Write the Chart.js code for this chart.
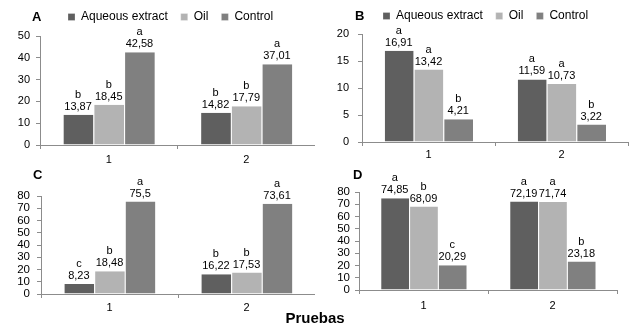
<!DOCTYPE html>
<html>
<head>
<meta charset="utf-8">
<script src="https://cdn.jsdelivr.net/npm/chart.js@4.4.0/dist/chart.umd.min.js"></script>
<style>
  body { margin: 0; background: #fff; }
  #wrap { position: relative; width: 629px; height: 327px; overflow: hidden; font-family: Arial, "Liberation Sans", sans-serif; color: #000; }
  canvas { position: absolute; }
  .letter { position: absolute; font-weight: bold; font-size: 13px; line-height: 14px; }
  #xtitle { position: absolute; left: 0; width: 630px; top: 310px; text-align: center; font-weight: bold; font-size: 15px; line-height: 16px; }
</style>
</head>
<body>
<div id="wrap">
  <canvas id="chartA" width="315" height="170" style="left:0;top:0"></canvas>
  <canvas id="chartB" width="314" height="170" style="left:315px;top:0"></canvas>
  <canvas id="chartC" width="315" height="164" style="left:0;top:163px"></canvas>
  <canvas id="chartD" width="314" height="164" style="left:315px;top:163px"></canvas>
  <div class="letter" style="left:32px;top:10px">A</div>
  <div class="letter" style="left:355px;top:9px">B</div>
  <div class="letter" style="left:33px;top:168px">C</div>
  <div class="letter" style="left:353px;top:168px">D</div>
  <div id="xtitle">Pruebas</div>
</div>
<script>
const categories = ['1', '2'];
const seriesNames = ['Aqueous extract', 'Oil', 'Control'];
const seriesColors = ['#5f5f5f', '#b3b3b3', '#808080'];

// A
const aqueousA = [13.87, 14.82];
const oilA = [18.45, 17.79];
const controlA = [42.58, 37.01];
const lettersA = [['b', 'b'], ['b', 'b'], ['a', 'a']];
const ticksA = [0, 10, 20, 30, 40, 50];

// B
const aqueousB = [16.91, 11.59];
const oilB = [13.42, 10.73];
const controlB = [4.21, 3.22];
const lettersB = [['a', 'a'], ['a', 'a'], ['b', 'b']];
const ticksB = [0, 5, 10, 15, 20];

// C
const aqueousC = [8.23, 16.22];
const oilC = [18.48, 17.53];
const controlC = [75.5, 73.61];
const lettersC = [['c', 'b'], ['b', 'b'], ['a', 'a']];
const ticksC = [0, 10, 20, 30, 40, 50, 60, 70, 80];

// D
const aqueousD = [74.85, 72.19];
const oilD = [68.09, 71.74];
const controlD = [20.29, 23.18];
const lettersD = [['a', 'a'], ['b', 'a'], ['c', 'b']];
const ticksD = [0, 10, 20, 30, 40, 50, 60, 70, 80];

const FONT = 'Arial, "Liberation Sans", sans-serif';
const axisColor = '#8c8c8c';

// letter + value above every bar
const barLabels = {
    id: 'barLabels',
    afterDatasetsDraw(chart) {
        const ctx = chart.ctx;
        ctx.save();
        ctx.font = '11px ' + FONT;
        ctx.fillStyle = '#000';
        ctx.textAlign = 'center';
        ctx.textBaseline = 'middle';
        chart.data.datasets.forEach((ds, i) => {
            chart.getDatasetMeta(i).data.forEach((bar, j) => {
                ctx.fillText(String(ds.data[j]).replace('.', ','), bar.x, bar.y - 8);
                ctx.fillText(ds.letters[j], bar.x, bar.y - 20);
            });
        });
        ctx.restore();
    }
};

function makeChart(id, values, letters, ticks, p) {
    const datasets = values.map((data, i) => ({
        label: seriesNames[i],
        data: data,
        letters: letters[i],
        backgroundColor: seriesColors[i],
        borderColor: '#ffffff',
        borderWidth: { left: 1, top: 0, right: 0, bottom: 0 },
        categoryPercentage: 0.67,
        barPercentage: 1
    }));

    // extra room under the legend, and move it sideways to where the original has it
    const legendPlace = {
        id: 'legendPlace',
        beforeInit(chart) {
            if (!chart.legend) return;
            const fit = chart.legend.fit;
            chart.legend.fit = function () {
                fit.bind(chart.legend)();
                this.height += p.legendExtra;
            };
        },
        afterLayout(chart) {
            const lg = chart.legend;
            if (!p.legend || !lg || !lg.lineWidths) return;
            const start = (lg.left + lg.options.labels.padding + lg.right - lg.lineWidths[0]) / 2;
            const dx = p.legendX - start;
            lg.left += dx;
            lg.right += dx;
        }
    };

    return new Chart(document.getElementById(id), {
        type: 'bar',
        data: { labels: categories, datasets: datasets },
        options: {
            responsive: false,
            animation: false,
            layout: { padding: { left: p.left, right: p.right, top: p.top, bottom: p.bottom } },
            plugins: {
                legend: {
                    display: p.legend,
                    position: 'top',
                    labels: {
                        boxWidth: 7,
                        boxHeight: 7,
                        padding: 13,
                        color: '#000',
                        font: { family: FONT, size: 12 }
                    }
                },
                tooltip: { enabled: false }
            },
            scales: {
                x: {
                    grid: { drawOnChartArea: false, drawTicks: true, tickLength: 4, color: axisColor },
                    border: { color: axisColor },
                    ticks: { color: '#000', padding: p.xPad, font: { family: FONT, size: 11 } },
                    afterFit: s => { s.height = 24; }
                },
                y: {
                    min: ticks[0],
                    max: ticks[ticks.length - 1],
                    grid: { drawOnChartArea: false, drawTicks: true, tickLength: 4, color: axisColor },
                    border: { color: axisColor },
                    ticks: { color: '#000', padding: p.yPad, autoSkip: false, font: { family: FONT, size: p.yFont } },
                    afterBuildTicks: s => { s.ticks = ticks.map(v => ({ value: v })); },
                    afterFit: s => { s.width = p.yWidth; }
                }
            }
        },
        plugins: [legendPlace, barLabels]
    });
}

makeChart('chartA', [aqueousA, oilA, controlA], lettersA, ticksA,
    { legend: true, legendExtra: 3, legendX: 68, left: 10, yWidth: 30, right: 0, top: -2, bottom: 1, xPad: 4, yPad: 6, yFont: 11 });
makeChart('chartB', [aqueousB, oilB, controlB], lettersB, ticksB,
    { legend: true, legendExtra: 2, legendX: 68, left: 17, yWidth: 30, right: 1, top: -3, bottom: 4, xPad: 2, yPad: 9, yFont: 11 });
makeChart('chartC', [aqueousC, oilC, controlC], lettersC, ticksC,
    { legend: false, legendExtra: 0, legendX: 0, left: 11, yWidth: 30, right: 0, top: 33, bottom: 9, xPad: 3, yPad: 7, yFont: 11.5 });
makeChart('chartD', [aqueousD, oilD, controlD], lettersD, ticksD,
    { legend: false, legendExtra: 0, legendX: 0, left: 14, yWidth: 30, right: 12, top: 29, bottom: 13, xPad: 5, yPad: 5, yFont: 11.5 });
</script>
</body>
</html>
